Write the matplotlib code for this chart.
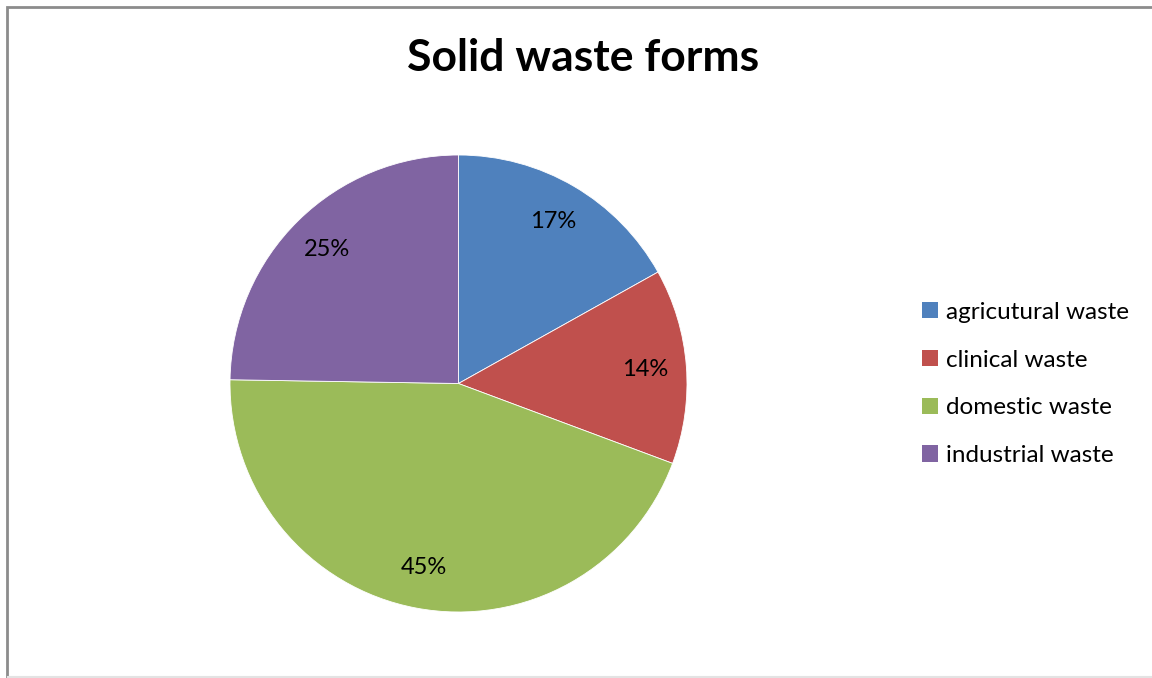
import matplotlib.pyplot as plt
from matplotlib.patches import Rectangle, Patch
from matplotlib.lines import Line2D

# data
categories = ['agricutural waste', 'clinical waste', 'domestic waste', 'industrial waste']
shares = [16.9, 13.8, 44.6, 24.75]
colors = ['#4F81BD', '#C0504D', '#9BBB59', '#8064A2']

plt.rcParams['font.family'] = ['Lato', 'DejaVu Sans']

W, H = 1152, 678
fig = plt.figure(figsize=(W / 100, H / 100), dpi=100)

# chart area border
fig.patches.append(Rectangle((6.5 / W, -0.01), 1.2, (H - 6.5) / H + 0.01,
                             transform=fig.transFigure, fill=False,
                             edgecolor='#8c8c8c', linewidth=2))
fig.lines.append(Line2D([8 / W, 1], [0.6 / H, 0.6 / H], transform=fig.transFigure,
                        color='#e3e3e3', linewidth=1.5))

# pie axes: centre (458.5, 383.5) px, radius 228.5 px
cx, cy, r = 458.5, 383.5, 228.5
ax = fig.add_axes([(cx - r) / W, (H - cy - r) / H, 2 * r / W, 2 * r / H])
wedges, texts, autotexts = ax.pie(shares, colors=colors, startangle=90,
                                  counterclock=False, autopct='%.0f%%',
                                  pctdistance=0.82,
                                  wedgeprops=dict(edgecolor='white', linewidth=0.6),
                                  textprops=dict(fontsize=17, color='black'))
ax.set_xlim(-1, 1)
ax.set_ylim(-1, 1)
ax.set_aspect('equal')
ax.axis('off')

fig.text(583 / W, 1 - 58 / H, 'Solid waste forms', ha='center', va='center',
         fontsize=32, fontweight='bold')

handles = [Patch(facecolor=c, edgecolor='none') for c in colors]
fig.legend(handles, categories, loc='center left',
           bbox_to_anchor=(900 / W, 1 - 384 / H), frameon=False,
           fontsize=17.5, handlelength=0.65, handleheight=0.65,
           handletextpad=0.35, labelspacing=1.1)

fig.savefig('out.png', dpi=100)
